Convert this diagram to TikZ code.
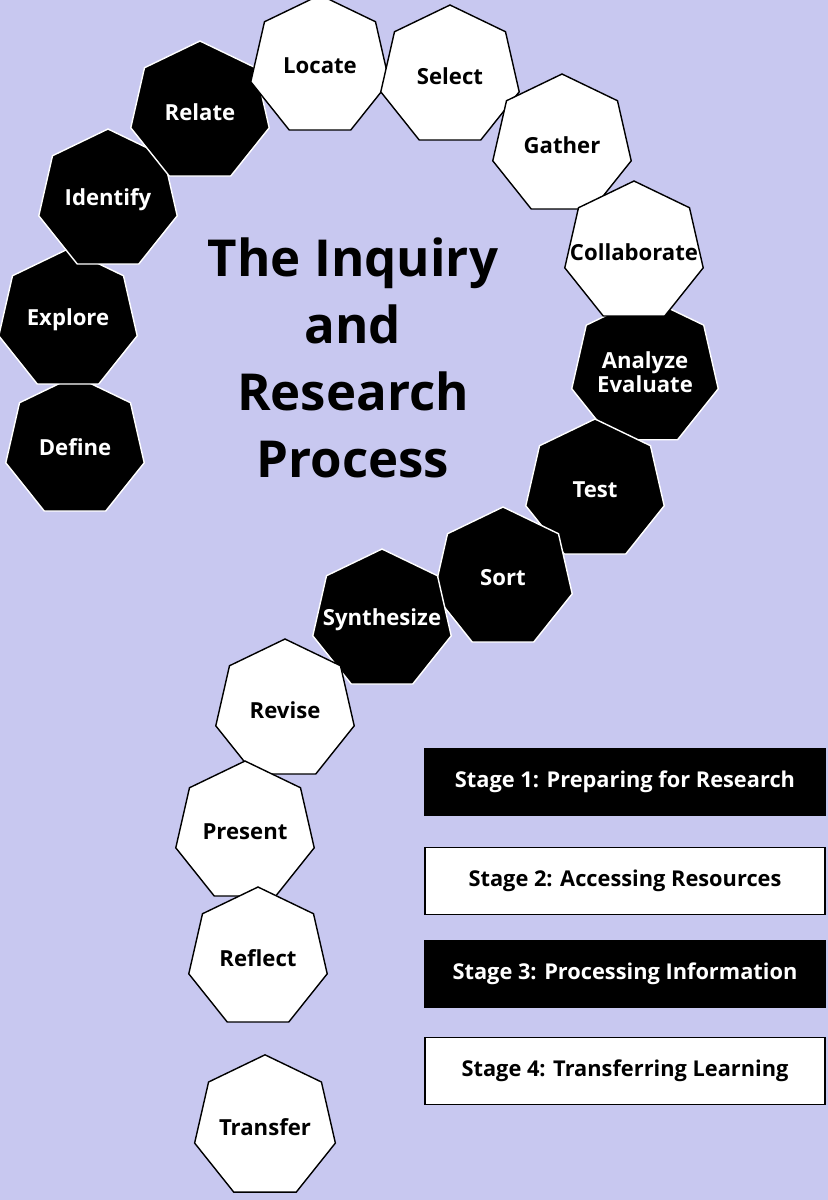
\documentclass[tikz,border=0pt]{standalone}
\usepackage{fontspec}
\setmainfont{Open Sans}
\usetikzlibrary{shapes.geometric}
\definecolor{bgblue}{RGB}{200,200,240}

\tikzset{
    hepta/.style={regular polygon, regular polygon sides=7, minimum size=1.42cm, inner sep=0pt, draw=black, thin, font=\fontsize{6.3}{7}\selectfont\bfseries, align=center},
    darkhepta/.style={hepta, fill=black, text=white, draw=white},
    lighthepta/.style={hepta, fill=white, text=black},
    widehepta/.style={inner sep=-9pt},
    stagebox/.style={minimum width=4cm, minimum height=0.67cm, inner sep=0pt, draw=black, font=\fontsize{6.2}{7}\selectfont\bfseries}
}

\begin{document}
\begin{tikzpicture}
        \useasboundingbox [fill=bgblue] (0,0) rectangle (8.28,-12);

        % dark steps
        \foreach \n/\x/\y/\t in {define/0.75/4.47/Define, explore/0.68/3.20/Explore, identify/1.08/2.00/Identify, relate/2.00/1.12/Relate, analyze/6.45/3.72/{Analyze\\Evaluate}, test/5.95/4.90/Test, sort/5.03/5.78/Sort} {
            \node[darkhepta] (\n) at (\x,-\y) {\t};
        }
        \node[darkhepta, widehepta] (synth) at (3.82,-6.20) {Synthesize};
        % light steps
        \foreach \n/\x/\y/\t in {locate/3.20/0.66/Locate, select/4.50/0.76/Select, gather/5.62/1.45/Gather, revise/2.85/7.10/Revise, present/2.45/8.32/Present, reflect/2.58/9.58/Reflect, transfer/2.65/11.27/Transfer} {
            \node[lighthepta] (\n) at (\x,-\y) {\t};
        }
        \node[lighthepta, widehepta] (collab) at (6.34,-2.52) {Collaborate};

        \node[font=\fontsize{14.5}{19}\selectfont\bfseries, align=center] (title) at (3.53,-3.58) {The Inquiry\\and\\Research\\Process};

        \node[stagebox, fill=black, text=white] (stage1) at (6.25,-7.82) {Stage 1: Preparing for Research};
        \node[stagebox, fill=white] (stage2) at (6.25,-8.81) {Stage 2: Accessing Resources};
        \node[stagebox, fill=black, text=white] (stage3) at (6.25,-9.74) {Stage 3: Processing Information};
        \node[stagebox, fill=white] (stage4) at (6.25,-10.71) {Stage 4: Transferring Learning};
\end{tikzpicture}
\end{document}
